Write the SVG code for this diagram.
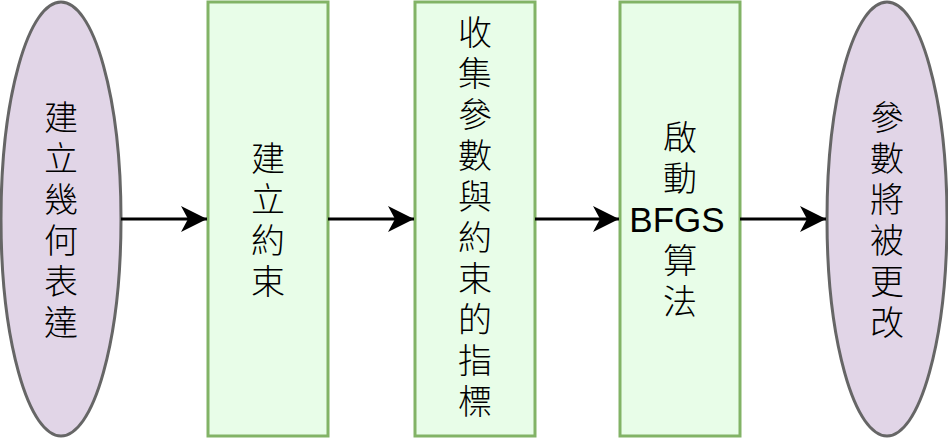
<svg xmlns="http://www.w3.org/2000/svg" width="948" height="438" viewBox="0 0 948 438">
<defs>
<style>
.ell{fill:#e1d5e7;stroke:#666666;stroke-width:3}
.box{fill:#e8fde8;stroke:#82b366;stroke-width:3}
.t{font-family:"Liberation Sans","Noto Sans CJK TC",sans-serif;font-size:34px;font-weight:300;fill:#000;text-anchor:middle}
.lat{font-family:"Liberation Sans",Arial,sans-serif;font-size:35px;font-weight:normal;fill:#000;text-anchor:middle}
.c{stroke:#000;stroke-width:3;fill:none;marker-end:url(#arr)}
</style>
<marker id="arr" viewBox="-27 -14 28 28" refX="0" refY="0" markerWidth="28" markerHeight="28" markerUnits="userSpaceOnUse" orient="auto">
<path d="M0,0 L-26,-13 L-19,0 L-26,13 Z" fill="#000"/>
</marker>
</defs>
<g id="n1">
<ellipse class="ell" cx="61" cy="219" rx="60" ry="217"/>
<text class="t"><tspan x="61" y="129.5">建</tspan><tspan x="61" y="170.5">立</tspan><tspan x="61" y="211.5">幾</tspan><tspan x="61" y="252.5">何</tspan><tspan x="61" y="293.5">表</tspan><tspan x="61" y="334.5">達</tspan></text>
</g>
<g id="n2">
<rect class="box" x="208" y="2" width="120" height="434"/>
<text class="t"><tspan x="268" y="170.5">建</tspan><tspan x="268" y="211.5">立</tspan><tspan x="268" y="252.5">約</tspan><tspan x="268" y="293.5">束</tspan></text>
</g>
<g id="n3">
<rect class="box" x="415" y="2" width="120" height="434"/>
<text class="t"><tspan x="475" y="45">收</tspan><tspan x="475" y="86">集</tspan><tspan x="475" y="127">參</tspan><tspan x="475" y="168">數</tspan><tspan x="475" y="209">與</tspan><tspan x="475" y="250">約</tspan><tspan x="475" y="291">束</tspan><tspan x="475" y="332">的</tspan><tspan x="475" y="373">指</tspan><tspan x="475" y="414">標</tspan></text>
</g>
<g id="n4">
<rect class="box" x="620" y="2" width="120" height="434"/>
<text class="t"><tspan x="680" y="150">啟</tspan><tspan x="680" y="191">動</tspan><tspan x="680" y="273">算</tspan><tspan x="680" y="314">法</tspan></text>
<text class="lat" x="677" y="232">BFGS</text>
</g>
<g id="n5">
<ellipse class="ell" cx="887" cy="219" rx="60" ry="217"/>
<text class="t"><tspan x="887" y="129.5">參</tspan><tspan x="887" y="170.5">數</tspan><tspan x="887" y="211.5">將</tspan><tspan x="887" y="252.5">被</tspan><tspan x="887" y="293.5">更</tspan><tspan x="887" y="334.5">改</tspan></text>
</g>
<g id="connectors">
<line class="c" x1="121" y1="219" x2="207" y2="219"/>
<line class="c" x1="328" y1="219" x2="414" y2="219"/>
<line class="c" x1="535" y1="219" x2="619" y2="219"/>
<line class="c" x1="740" y1="219" x2="826" y2="219"/>
</g>
</svg>
